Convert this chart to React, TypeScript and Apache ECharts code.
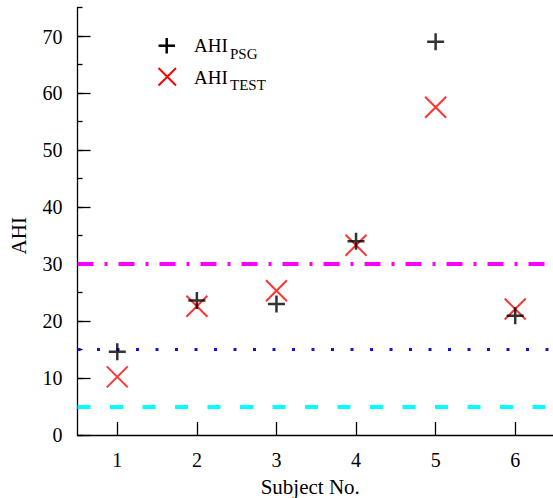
import React, { useEffect, useRef } from "react";
import * as echarts from "echarts";

const subjects = ["1", "2", "3", "4", "5", "6"];
const ahiPSG = [14.6, 23.6, 23.0, 34.0, 69.0, 20.9];
const ahiTEST = [10.2, 22.6, 25.3, 33.3, 57.5, 22.1];
const thresholds = [30, 15, 5];

const FONT = "'Liberation Serif', 'Times New Roman', serif";

export default function App() {
  const ref = useRef<HTMLDivElement>(null);
  useEffect(() => {
    if (!ref.current) return;
    const chart = echarts.init(ref.current, null, { renderer: "svg" });
    const axisLine = { show: true, lineStyle: { color: "#000", width: 1.3 } };
    chart.setOption({
      animation: false,
      backgroundColor: "#fff",
      textStyle: { fontFamily: FONT },
      grid: [
        { left: 77.5, right: -2, top: 7.5, bottom: 63, outerBoundsMode: "none", containLabel: false },
        { left: 77.5, right: -2, top: 36.5, bottom: 63, outerBoundsMode: "none", containLabel: false },
      ],
      xAxis: [
        {
          type: "category",
          gridIndex: 0,
          data: subjects,
          boundaryGap: true,
          axisLine,
          axisTick: { show: true, inside: true, alignWithLabel: true, length: 13, lineStyle: { color: "#000", width: 1.3 } },
          axisLabel: { color: "#000", fontSize: 20, fontFamily: FONT, margin: 15 },
          splitLine: { show: false },
          name: "Subject No.",
          nameLocation: "middle",
          nameGap: 41,
          nameTextStyle: { color: "#000", fontSize: 21, fontFamily: FONT, padding: [0, 12, 0, 0] },
        },
        {
          type: "category",
          gridIndex: 1,
          data: subjects,
          show: false,
        },
      ],
      yAxis: [
        {
          type: "value",
          gridIndex: 0,
          min: 0,
          max: 75,
          interval: 5,
          axisLine,
          axisTick: { show: true, inside: true, length: 5, lineStyle: { color: "#000", width: 1.3 } },
          axisLabel: { show: false },
          splitLine: { show: false },
        },
        {
          type: "value",
          gridIndex: 1,
          min: 0,
          max: 70,
          interval: 10,
          axisLine: { show: false },
          axisTick: { show: true, inside: true, length: 13, lineStyle: { color: "#000", width: 1.3 } },
          axisLabel: { color: "#000", fontSize: 20, fontFamily: FONT, margin: 15 },
          splitLine: { show: false },
          name: "AHI",
          nameLocation: "middle",
          nameGap: 48,
          nameTextStyle: { color: "#000", fontSize: 21, fontFamily: FONT },
        },
      ],
      series: [
        {
          type: "scatter",
          name: "AHI_PSG",
          xAxisIndex: 0,
          yAxisIndex: 0,
          data: ahiPSG,
          symbol: "path://M1,0L1,2M0,1L2,1",
          symbolSize: 17,
          itemStyle: { color: "transparent", borderColor: "#000", borderWidth: 2.5 },
          z: 5,
          markLine: {
            silent: true,
            symbol: ["none", "none"],
            label: { show: false },
            data: [
              { yAxis: thresholds[0], lineStyle: { color: "#ff00ff", width: 4, type: [16, 11, 3, 11], cap: "butt" } },
              { yAxis: thresholds[1], lineStyle: { color: "#1010ee", width: 3, type: [3, 16.5], cap: "butt" } },
              { yAxis: thresholds[2], lineStyle: { color: "#00ffff", width: 4, type: [13, 19.5], cap: "butt" } },
            ],
          },
        },
        {
          type: "scatter",
          name: "AHI_TEST",
          xAxisIndex: 0,
          yAxisIndex: 0,
          data: ahiTEST,
          symbol: "path://M0,0L2,2M2,0L0,2",
          symbolSize: 21,
          itemStyle: { color: "transparent", borderColor: "#ff0000", borderWidth: 2 },
          z: 4,
        },
      ],
      graphic: [
        { type: "line", shape: { x1: 158.5, y1: 45.7, x2: 175, y2: 45.7 }, style: { stroke: "#000", lineWidth: 2.5 } },
        { type: "line", shape: { x1: 166.7, y1: 38, x2: 166.7, y2: 53.5 }, style: { stroke: "#000", lineWidth: 2.5 } },
        { type: "line", shape: { x1: 158.5, y1: 68, x2: 176, y2: 85.5 }, style: { stroke: "#ff0000", lineWidth: 2 } },
        { type: "line", shape: { x1: 176, y1: 68, x2: 158.5, y2: 85.5 }, style: { stroke: "#ff0000", lineWidth: 2 } },
        { type: "text", x: 194, y: 45.5, style: { text: "AHI", fill: "#000", font: `19px ${FONT}`, verticalAlign: "middle", align: "left" } },
        { type: "text", x: 230, y: 53.5, style: { text: "PSG", fill: "#000", font: `15px ${FONT}`, verticalAlign: "middle", align: "left" } },
        { type: "text", x: 194, y: 77, style: { text: "AHI", fill: "#000", font: `19px ${FONT}`, verticalAlign: "middle", align: "left" } },
        { type: "text", x: 230, y: 85, style: { text: "TEST", fill: "#000", font: `15px ${FONT}`, verticalAlign: "middle", align: "left" } },
      ],
    });
    return () => chart.dispose();
  }, []);
  return (
    <div
      ref={ref}
      style={{ position: "absolute", left: 0, top: 0, width: 553, height: 498, background: "#fff" }}
    />
  );
}
